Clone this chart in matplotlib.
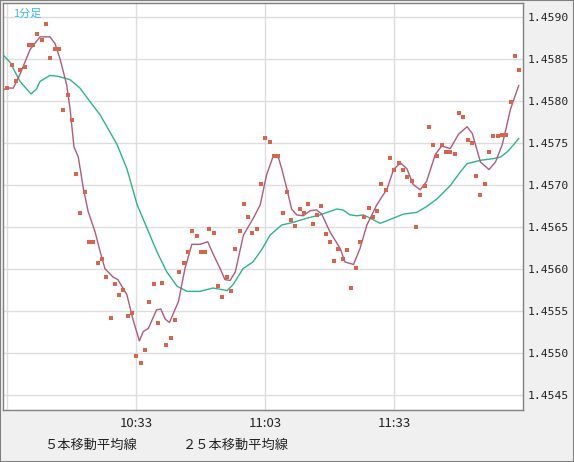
import matplotlib
matplotlib.use("Agg")
import matplotlib.pyplot as plt

plt.rcParams["font.family"] = ["Noto Sans CJK JP", "DejaVu Sans"]

# closing price per minute, starting 10:03
price = [
    1.45815, 1.45843, 1.45823, 1.45837, 1.45840, 1.45866, 1.45866, 1.45879, 1.45872, 1.45891,
    1.45851, 1.45862, 1.45862, 1.45789, 1.45807, 1.45777, 1.45713, 1.45666, 1.45691, 1.45632,
    1.45632, 1.45607, 1.45612, 1.45590, 1.45541, 1.45582, 1.45569, 1.45575, 1.45544, 1.45547,
    1.45496, 1.45488, 1.45503, 1.45560, 1.45582, 1.45535, 1.45583, 1.45509, 1.45518, 1.45539,
    1.45596, 1.45607, 1.45620, 1.45645, 1.45639, 1.45620, 1.45620, 1.45647, 1.45642, 1.45579,
    1.45566, 1.45590, 1.45573, 1.45623, 1.45645, 1.45677, 1.45662, 1.45642, 1.45647, 1.45701,
    1.45756, 1.45751, 1.45734, 1.45734, 1.45666, 1.45691, 1.45658, 1.45651, 1.45671, 1.45666,
    1.45677, 1.45653, 1.45664, 1.45675, 1.45641, 1.45632, 1.45609, 1.45623, 1.45612, 1.45622,
    1.45577, 1.45601, 1.45632, 1.45662, 1.45672, 1.45662, 1.45669, 1.45701, 1.45694, 1.45732,
    1.45718, 1.45726, 1.45718, 1.45709, 1.45704, 1.45650, 1.45688, 1.45698, 1.45769, 1.45747,
    1.45734, 1.45747, 1.45739, 1.45739, 1.45737, 1.45785, 1.45781, 1.45753, 1.45750, 1.45710,
    1.45688, 1.45701, 1.45739, 1.45758, 1.45758, 1.45759, 1.45759, 1.45798, 1.45853, 1.45837,
]
first_minute = 3  # minutes after 10:00

# 5-period moving average (minutes after 10:00, price)
ma5_t = [1.3, 2.9, 4.4, 6.0, 8.3, 10.6, 12.9, 14.1, 15.3, 16.8, 17.6, 18.5, 19.5, 20.7, 21.8,
         23.4, 24.6, 25.7, 27.6, 28.7, 30.8, 32.2, 33.7, 34.6, 35.8, 37.7, 38.7, 39.7, 40.7,
         42.8, 44.3, 45.9, 47.8, 49.6, 50.9, 52.5, 53.6, 54.8, 56.0, 57.9, 60.2, 61.8, 63.3,
         64.9, 66.0, 66.8, 68.0, 69.1, 70.3, 71.8, 73.4, 74.9, 76.1, 78.0, 80.4, 81.5, 83.5,
         85.0, 86.6, 88.9, 91.3, 92.8, 94.4, 95.9, 97.4, 99.0, 100.5, 102.5, 104.0, 106.0,
         107.9, 109.9, 111.1, 113.0, 115.0, 116.5, 118.1, 120.0, 121.9]
ma5_v = [1.45811, 1.45815, 1.45815, 1.45832, 1.45861, 1.45876, 1.45876, 1.45868, 1.45849,
         1.45819, 1.45790, 1.45745, 1.45733, 1.45695, 1.45668, 1.45644, 1.45620, 1.45600,
         1.45590, 1.45587, 1.45569, 1.45540, 1.45514, 1.45525, 1.45529, 1.45551, 1.45552,
         1.45540, 1.45536, 1.45561, 1.45600, 1.45629, 1.45629, 1.45632, 1.45617, 1.45600,
         1.45587, 1.45586, 1.45596, 1.45640, 1.45660, 1.45676, 1.45712, 1.45735, 1.45733,
         1.45719, 1.45695, 1.45671, 1.45664, 1.45663, 1.45669, 1.45670, 1.45665, 1.45644,
         1.45624, 1.45608, 1.45605, 1.45624, 1.45652, 1.45676, 1.45695, 1.45718, 1.45726,
         1.45719, 1.45700, 1.45694, 1.45704, 1.45736, 1.45746, 1.45743, 1.45760, 1.45769,
         1.45761, 1.45727, 1.45718, 1.45727, 1.45748, 1.45790, 1.45818]

# 25-period moving average
ma25_t = [1.3, 2.1, 3.6, 5.95, 8.5, 9.8, 10.6, 12.9, 14.8, 17.6, 19.9, 22.2, 24.6, 28.5, 30.8,
          33.2, 35.5, 37.8, 40.1, 42.5, 44.8, 47.8, 50.8, 54.1, 55.5, 57.8, 60.1, 62.2, 64.1,
          66.8, 69.4, 72.6, 75.7, 79.6, 81.0, 82.7, 84.3, 85.8, 87.4, 89.7, 92.7, 95.1, 98.2,
          100.5, 102.9, 106.0, 108.3, 109.9, 113.0, 116.0, 117.7, 119.2, 120.8, 121.9]
ma25_v = [1.45858, 1.45854, 1.45846, 1.45823, 1.45808, 1.45814, 1.45823, 1.45830, 1.45829,
          1.45825, 1.45815, 1.45799, 1.45783, 1.45748, 1.45719, 1.45676, 1.45648, 1.45620,
          1.45596, 1.45579, 1.45573, 1.45573, 1.45577, 1.45574, 1.45581, 1.45600, 1.45608,
          1.45623, 1.45640, 1.45652, 1.45655, 1.45660, 1.45664, 1.45671, 1.45670, 1.45664,
          1.45663, 1.45664, 1.45660, 1.45654, 1.45660, 1.45665, 1.45667, 1.45674, 1.45683,
          1.45699, 1.45715, 1.45725, 1.45729, 1.45731, 1.45733, 1.45739, 1.45748, 1.45755]

x_ticks = [33, 63, 93]
x_labels = ["10:33", "11:03", "11:33"]
y_ticks = [1.4545, 1.4550, 1.4555, 1.4560, 1.4565, 1.4570, 1.4575, 1.4580, 1.4585, 1.4590]

W, H = 574, 462
fig = plt.figure(figsize=(W / 100, H / 100), dpi=100, facecolor="#f0f0f0")
ax = fig.add_axes([3 / W, 1 - 410 / H, 520 / W, 407 / H])
ax.set_facecolor("white")

minutes = [first_minute + i for i in range(len(price))]
ax.plot(ma25_t, ma25_v, color="#2bb58a", lw=1.0)
ax.plot(ma5_t, ma5_v, color="#b05a80", lw=1.0)
ax.plot(minutes, price, ls="none", marker="s", ms=2.6, color="#d9644c", mew=0)

ax.set_xlim(2.0, 122.9)
ax.set_ylim(1.45902 - 395 / 84000, 1.45902 + 12 / 84000)
ax.set_xticks([3] + x_ticks)
ax.set_xticklabels([""] + x_labels)
ax.set_yticks(y_ticks)
ax.set_yticklabels([f"{v:.4f}" for v in y_ticks], family="DejaVu Sans Mono")
ax.yaxis.tick_right()
ax.tick_params(length=0, labelsize=8.2, colors="#222222", pad=3)
ax.tick_params(axis="x", labelsize=9.5, pad=5)
ax.grid(True, color="#dddddd", lw=1)
ax.set_axisbelow(True)
for s in ax.spines.values():
    s.set_color("#808080")
    s.set_linewidth(1)

ax.text(0.02, 0.985, "1分足", transform=ax.transAxes, color="#33bbee",
        fontsize=8, va="top")

# legend
fig.lines.append(plt.Line2D([5 / W, 38 / W], [1 - 445 / H] * 2, color="#b05a80", lw=1))
fig.text(44 / W, 1 - 445 / H, "５本移動平均線", fontsize=9.5, va="center", color="#222222")
fig.lines.append(plt.Line2D([150 / W, 180 / W], [1 - 445 / H] * 2, color="#2bb58a", lw=1))
fig.text(183 / W, 1 - 445 / H, "２５本移動平均線", fontsize=9.5, va="center", color="#222222")
fig.patches.append(plt.Rectangle((0, 0), 1, 1, transform=fig.transFigure, fill=False,
                                 ec="#808080", lw=1.5))

fig.savefig("out.png", dpi=100, facecolor=fig.get_facecolor())
